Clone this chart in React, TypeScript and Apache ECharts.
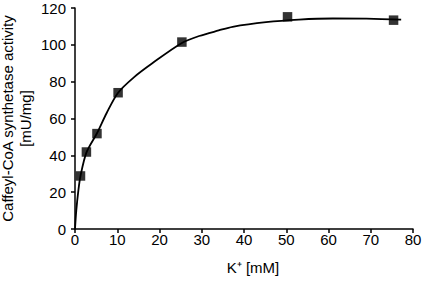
import React, { useEffect, useRef } from "react";
import * as echarts from "echarts";

const kConc = [1.3, 2.7, 5.2, 10.2, 25.3, 50.3, 75.4];
const activity = [28.8, 41.8, 51.8, 74, 101.5, 115.2, 113.4];

const fitX = [0, 0.3, 0.8, 1.3, 2.7, 5.2, 7.5, 10.2, 14, 18.3, 25.3, 29.4, 34, 37.3, 45.2, 53, 61, 69, 77.2];
const fitY = [0, 10, 21, 28.8, 41.5, 52, 63, 74, 82.5, 90, 101, 104.8, 107.8, 109.8, 112.3, 113.7, 114.3, 114.2, 113.7];

const xTicks = { min: 0, max: 80, interval: 10 };
const yTicks = { min: 0, max: 120, interval: 20 };

export default function App() {
  const ref = useRef<HTMLDivElement>(null);
  useEffect(() => {
    if (!ref.current) return;
    const chart = echarts.init(ref.current, null, { renderer: "svg" });
    const font = "Liberation Sans";
    chart.setOption({
      animation: false,
      backgroundColor: "#ffffff",
      grid: { left: 75, right: 12, top: 8, bottom: 52, containLabel: false, outerBoundsMode: "none" },
      xAxis: {
        type: "value",
        ...xTicks,
        name: "K⁺ [mM]",
        nameLocation: "middle",
        nameGap: 31,
        nameMoveOverlap: false,
        nameTextStyle: { fontFamily: font, fontSize: 15, color: "#000", padding: [0, 0, 0, 18] },
        axisLine: { lineStyle: { color: "#000", width: 1.5 } },
        axisTick: { show: true, length: 4, lineStyle: { color: "#000", width: 1.5 } },
        axisLabel: { fontFamily: font, fontSize: 15, color: "#000", margin: 3 },
        splitLine: { show: false },
      },
      yAxis: {
        type: "value",
        ...yTicks,
        name: "Caffeyl-CoA synthetase activity\n[mU/mg]",
        nameLocation: "middle",
        nameGap: 41,
        nameMoveOverlap: false,
        nameTextStyle: { fontFamily: font, fontSize: 15, color: "#000", lineHeight: 18 },
        axisLine: { show: true, lineStyle: { color: "#000", width: 1.5 } },
        axisTick: { show: true, length: 4, lineStyle: { color: "#000", width: 1.5 } },
        axisLabel: { fontFamily: font, fontSize: 15, color: "#000", margin: 9, lineHeight: 12 },
        splitLine: { show: false },
      },
      series: [
        {
          type: "line",
          data: fitX.map((x, i) => [x, fitY[i]]),
          showSymbol: false,
          smooth: 0.3,
          lineStyle: { color: "#000", width: 1.8 },
          silent: true,
        },
        {
          type: "scatter",
          data: kConc.map((x, i) => [x, activity[i]]),
          symbol: "rect",
          symbolSize: 9.5,
          itemStyle: { color: "#000" },
        },
      ],
    });
    return () => chart.dispose();
  }, []);
  return <div ref={ref} style={{ width: 425, height: 281, position: "fixed", left: 0, top: 0 }} />;
}
